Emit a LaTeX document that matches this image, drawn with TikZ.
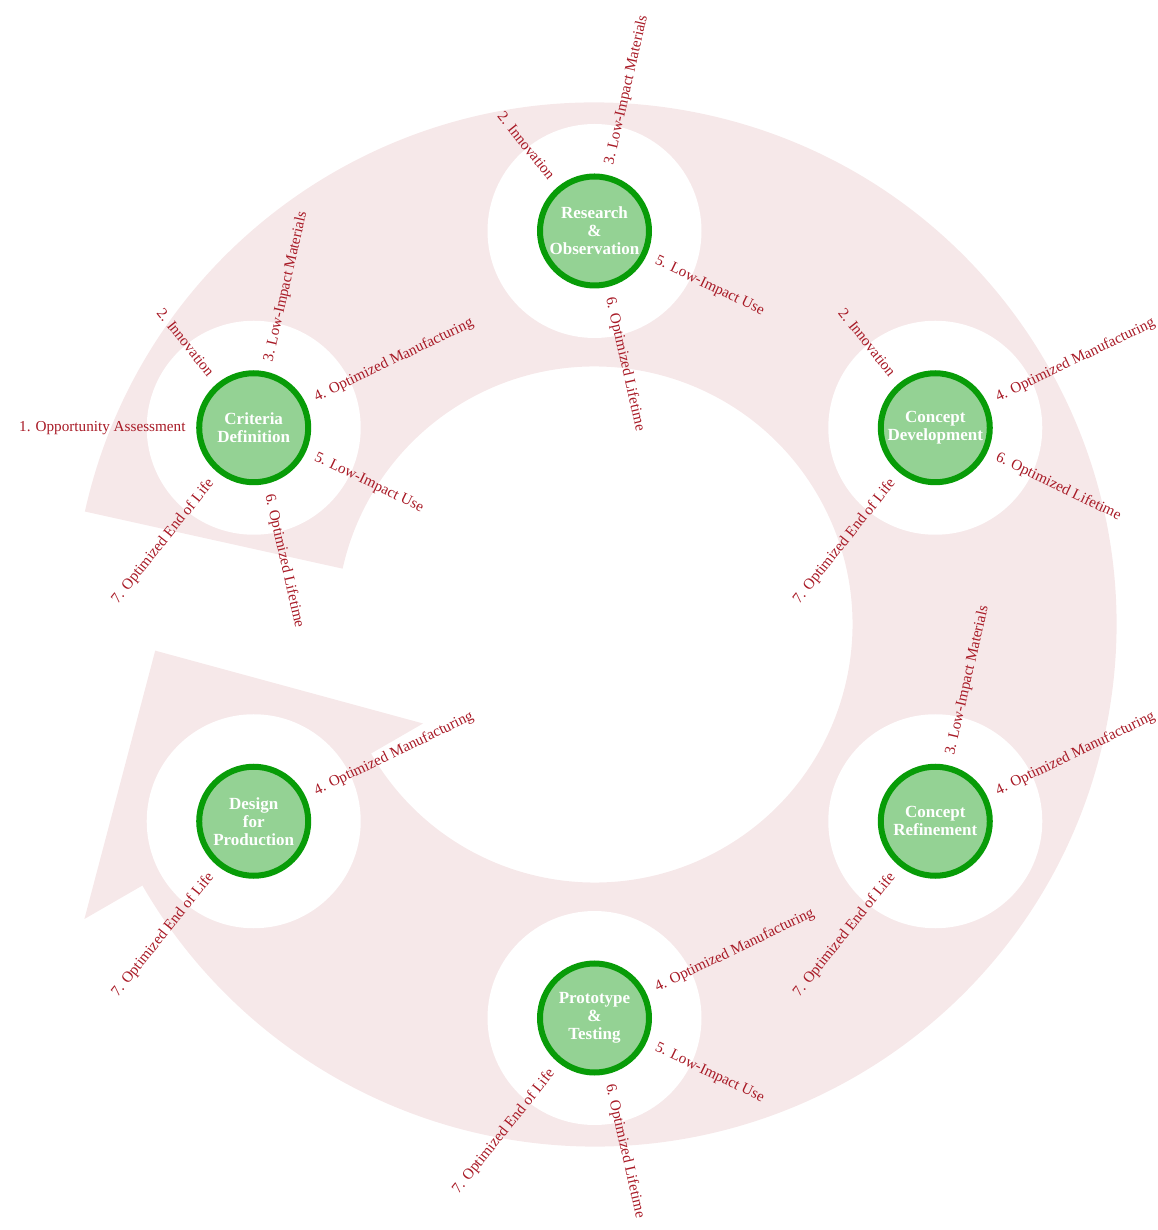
\documentclass[tikz,border=0pt]{standalone}
\usepackage{fontspec}
\setmainfont{Liberation Serif}
\usetikzlibrary{calc}
\definecolor{ringpink}{RGB}{246,232,233}
\definecolor{nodefill}{RGB}{148,210,148}
\definecolor{nodeline}{RGB}{8,156,8}
\definecolor{labred}{RGB}{168,26,38}
\newcommand\labR[4]{\node[lab, rotate=#3, anchor=west] (#1) at ($(#2)+(#3:68)$) {#4};}
\newcommand\labL[4]{\node[lab, rotate=#3+180, anchor=east] (#1) at ($(#2)+(#3:68)$) {#4};}
\begin{document}
\begin{tikzpicture}[x=1pt,y=1pt,
  stage/.style={circle, draw=nodeline, line width=6pt, fill=nodefill, minimum size=109pt, inner sep=0pt, text=white, font=\bfseries\fontsize{17}{18}\selectfont, align=center},
  halo/.style={circle, fill=white, minimum size=214pt, inner sep=0pt},
  lab/.style={text=labred, font=\fontsize{15.2}{17}\selectfont, inner sep=0pt}]
\useasboundingbox (-594.5,-605.5) rectangle (562.5,624.5);
% ring arrow
\fill[ringpink] (167.5:522) arc[start angle=167.5, end angle=-150, radius=522]
  -- (-150:589) -- ($(-150:393.5)+(120:197)$) -- (-150:198) -- (-150:258)
  arc[start angle=-150, end angle=167.5, radius=258] -- cycle;
% halos
\node[halo] (hres) at (90:393.5) {};
\node[halo] (hcdev) at (30:393.5) {};
\node[halo] (hcref) at (-30:393.5) {};
\node[halo] (hproto) at (-90:393.5) {};
\node[halo] (hdfp) at (-150:393.5) {};
\node[halo] (hcrit) at (150:393.5) {};
% stages
\node[stage] (res) at (90:393.5) {Research\\\&\\Observation};
\node[stage] (cdev) at (30:393.5) {Concept\\Development};
\node[stage] (cref) at (-30:393.5) {Concept\\Refinement};
\node[stage] (proto) at (-90:393.5) {Prototype\\\&\\Testing};
\node[stage] (dfp) at (-150:393.5) {Design\\for\\Production};
\node[stage] (crit) at (150:393.5) {Criteria\\Definition};
% labels: Research
\labL{res2}{res}{128.57}{2. Innovation}
\labR{res3}{res}{77.14}{3. Low-Impact Materials}
\labR{res5}{res}{-25.71}{5. Low-Impact Use}
\labR{res6}{res}{-77.14}{6. Optimized Lifetime}
% Concept Development
\labL{cdev2}{cdev}{128.57}{2. Innovation}
\labR{cdev4}{cdev}{25.71}{4. Optimized Manufacturing}
\labR{cdev6}{cdev}{-25.71}{6. Optimized Lifetime}
\labL{cdev7}{cdev}{-128.57}{7. Optimized End of Life}
% Concept Refinement
\labR{cref3}{cref}{77.14}{3. Low-Impact Materials}
\labR{cref4}{cref}{25.71}{4. Optimized Manufacturing}
\labL{cref7}{cref}{-128.57}{7. Optimized End of Life}
% Prototype
\labR{proto4}{proto}{25.71}{4. Optimized Manufacturing}
\labR{proto5}{proto}{-25.71}{5. Low-Impact Use}
\labR{proto6}{proto}{-77.14}{6. Optimized Lifetime}
\labL{proto7}{proto}{-128.57}{7. Optimized End of Life}
% Design for Production
\labR{dfp4}{dfp}{25.71}{4. Optimized Manufacturing}
\labL{dfp7}{dfp}{-128.57}{7. Optimized End of Life}
% Criteria Definition
\labL{crit1}{crit}{180}{1. Opportunity Assessment}
\labL{crit2}{crit}{128.57}{2. Innovation}
\labR{crit3}{crit}{77.14}{3. Low-Impact Materials}
\labR{crit4}{crit}{25.71}{4. Optimized Manufacturing}
\labR{crit5}{crit}{-25.71}{5. Low-Impact Use}
\labR{crit6}{crit}{-77.14}{6. Optimized Lifetime}
\labL{crit7}{crit}{-128.57}{7. Optimized End of Life}
\end{tikzpicture}
\end{document}
